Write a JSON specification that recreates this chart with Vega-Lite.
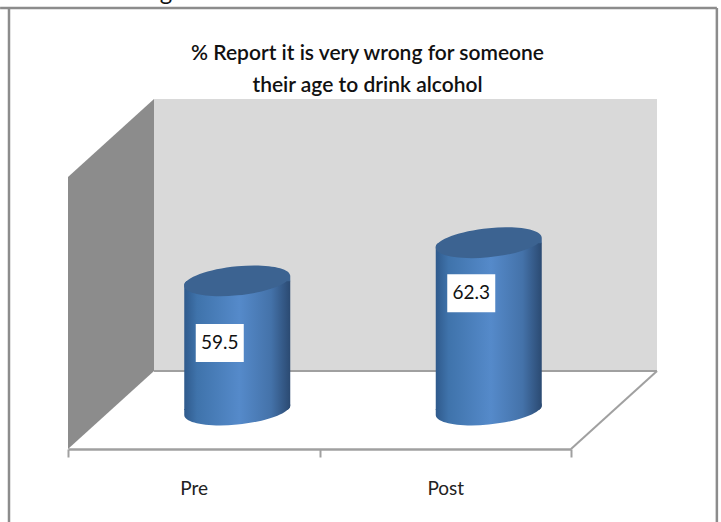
{
  "$schema": "https://vega.github.io/schema/vega-lite/v6.json",
  "width": 503,
  "height": 272,
  "autosize": "none",
  "padding": {"left": 68, "top": 177, "right": 150, "bottom": 73},
  "background": "#ffffff",
  "config": {"view": {"stroke": null}},
  "title": {
    "text": ["% Report it is very wrong for someone", "their age to drink alcohol"],
    "font": "Lato",
    "fontSize": 21,
    "fontWeight": 600,
    "color": "#111111",
    "anchor": "middle",
    "frame": "group",
    "dx": 48,
    "offset": -115,
    "lineHeight": 32
  },
  "datasets": {
    "survey": [
      {"period": "Pre", "percent": 59.5, "labelAt": 57.8},
      {"period": "Post", "percent": 62.3, "labelAt": 61.45}
    ],
    "sideWall": [
      {"x": 0, "low": 50, "high": 70},
      {"x": 0.171, "low": 55.73, "high": 75.73}
    ],
    "backWall": [
      {"x": 0.171, "low": 55.73, "high": 75.73},
      {"x": 1.171, "low": 55.73, "high": 75.73}
    ],
    "floorEdges": [
      {"edge": "back", "seq": 1, "x": 0.171, "y": 55.73},
      {"edge": "back", "seq": 2, "x": 1.171, "y": 55.73},
      {"edge": "right", "seq": 1, "x": 1.171, "y": 55.73},
      {"edge": "right", "seq": 2, "x": 1, "y": 50}
    ],
    "frame": [
      {"edge": "top", "seq": 1, "x": -0.135, "y": 82.43},
      {"edge": "top", "seq": 2, "x": 1.29, "y": 82.43},
      {"edge": "left", "seq": 1, "x": -0.1173, "y": 82.43},
      {"edge": "left", "seq": 2, "x": -0.1173, "y": 44.6},
      {"edge": "right", "seq": 1, "x": 1.29, "y": 82.43},
      {"edge": "right", "seq": 2, "x": 1.29, "y": 44.6}
    ],
    "heading": [
      {"x": 0.195, "y": 83.05, "text": "g"}
    ]
  },
  "layer": [
    {
      "data": {"name": "sideWall"},
      "mark": {"type": "area", "color": "#8c8c8c"},
      "encoding": {
        "x": {"field": "x", "type": "quantitative", "scale": {"domain": [0, 1], "zero": false, "nice": false}, "axis": null},
        "y": {"field": "low", "type": "quantitative", "scale": {"domain": [50, 70], "zero": false, "nice": false}, "axis": null},
        "y2": {"field": "high"}
      }
    },
    {
      "data": {"name": "backWall"},
      "mark": {"type": "area", "color": "#d9d9d9"},
      "encoding": {
        "x": {"field": "x", "type": "quantitative", "scale": {"domain": [0, 1], "zero": false, "nice": false}, "axis": null},
        "y": {"field": "low", "type": "quantitative", "scale": {"domain": [50, 70], "zero": false, "nice": false}, "axis": null},
        "y2": {"field": "high"}
      }
    },
    {
      "data": {"name": "floorEdges"},
      "mark": {"type": "line", "color": "#a0a0a0", "strokeWidth": 2},
      "encoding": {
        "x": {"field": "x", "type": "quantitative", "scale": {"domain": [0, 1], "zero": false, "nice": false}, "axis": null},
        "y": {"field": "y", "type": "quantitative", "scale": {"domain": [50, 70], "zero": false, "nice": false}, "axis": null},
        "detail": {"field": "edge"},
        "order": {"field": "seq"}
      }
    },
    {
      "data": {"name": "frame"},
      "mark": {"type": "line", "color": "#8c8c8c", "strokeWidth": 2.5},
      "encoding": {
        "x": {"field": "x", "type": "quantitative", "scale": {"domain": [0, 1], "zero": false, "nice": false}, "axis": null},
        "y": {"field": "y", "type": "quantitative", "scale": {"domain": [50, 70], "zero": false, "nice": false}, "axis": null},
        "detail": {"field": "edge"},
        "order": {"field": "seq"}
      }
    },
    {
      "data": {"name": "heading"},
      "mark": {"type": "text", "font": "Lato", "fontSize": 24, "color": "#111111", "baseline": "alphabetic"},
      "encoding": {
        "x": {"field": "x", "type": "quantitative", "scale": {"domain": [0, 1], "zero": false, "nice": false}, "axis": null},
        "y": {"field": "y", "type": "quantitative", "scale": {"domain": [50, 70], "zero": false, "nice": false}, "axis": null},
        "text": {"field": "text"}
      }
    },
    {
      "data": {"name": "survey"},
      "mark": {
        "type": "point",
        "filled": true,
        "opacity": 1,
        "shape": "M1 -0.094C1 0.058 0.552 0.223 0 0.275C-0.552 0.327 -1 0.246 -1 0.094C-1 -0.058 -0.552 -0.223 0 -0.275C0.552 -0.327 1 -0.246 1 -0.094ZM-1 -0.02L-0.9 -0.02L-0.9 0.1L-1 0.1Z",
        "size": 11236,
        "xOffset": 43.5,
        "yOffset": -39,
        "fill": {
          "gradient": "linear", "x1": 0, "y1": 0, "x2": 1, "y2": 0,
          "stops": [
            {"offset": 0, "color": "#2f5a8c"},
            {"offset": 0.12, "color": "#3f73ab"},
            {"offset": 0.52, "color": "#558aca"},
            {"offset": 0.82, "color": "#4472a9"},
            {"offset": 1, "color": "#2b4a72"}
          ]
        }
      },
      "encoding": {
        "x": {"field": "period", "type": "nominal", "sort": ["Pre", "Post"], "scale": {"type": "band", "domain": ["Pre", "Post"], "paddingInner": 0, "paddingOuter": 0}, "axis": null},
        "y": {"datum": 50, "type": "quantitative", "scale": {"domain": [50, 70], "zero": false, "nice": false}, "axis": null}
      }
    },
    {
      "data": {"name": "survey"},
      "mark": {
        "type": "bar",
        "width": 106,
        "xOffset": 43.5,
        "yOffset": -39,
        "y2Offset": -39,
        "cornerRadiusTopLeft": 4,
        "cornerRadiusBottomRight": 4,
        "fill": {
          "gradient": "linear", "x1": 0, "y1": 0, "x2": 1, "y2": 0,
          "stops": [
            {"offset": 0, "color": "#2f5a8c"},
            {"offset": 0.12, "color": "#3f73ab"},
            {"offset": 0.52, "color": "#558aca"},
            {"offset": 0.82, "color": "#4472a9"},
            {"offset": 1, "color": "#2b4a72"}
          ]
        }
      },
      "encoding": {
        "x": {
          "field": "period", "type": "nominal", "sort": ["Pre", "Post"], "title": null,
          "scale": {"type": "band", "domain": ["Pre", "Post"], "paddingInner": 0, "paddingOuter": 0},
          "axis": {
            "labelAngle": 0, "labelFont": "Lato", "labelFontSize": 19, "labelColor": "#222222",
            "labelPadding": 22, "tickBand": "extent", "tickSize": 8, "tickWidth": 2, "tickColor": "#a0a0a0",
            "domainColor": "#a0a0a0", "domainWidth": 2.5, "grid": false
          }
        },
        "y": {"field": "percent", "type": "quantitative", "stack": null, "scale": {"domain": [50, 70], "zero": false, "nice": false}, "axis": null},
        "y2": {"datum": 50}
      }
    },
    {
      "data": {"name": "survey"},
      "mark": {
        "type": "point",
        "filled": true,
        "opacity": 1,
        "color": "#3c6391",
        "shape": "M1 -0.094C1 0.058 0.552 0.223 0 0.275C-0.552 0.327 -1 0.246 -1 0.094C-1 -0.058 -0.552 -0.223 0 -0.275C0.552 -0.327 1 -0.246 1 -0.094ZM1 -0.1L1 0.01L0.92 0.01L0.92 -0.1Z",
        "size": 11236,
        "xOffset": 43.5,
        "yOffset": -39
      },
      "encoding": {
        "x": {"field": "period", "type": "nominal", "sort": ["Pre", "Post"], "scale": {"type": "band", "domain": ["Pre", "Post"], "paddingInner": 0, "paddingOuter": 0}, "axis": null},
        "y": {"field": "percent", "type": "quantitative", "scale": {"domain": [50, 70], "zero": false, "nice": false}, "axis": null}
      }
    },
    {
      "data": {"name": "survey"},
      "mark": {
        "type": "point",
        "filled": true,
        "opacity": 1,
        "color": "#ffffff",
        "shape": "M-1 -0.79L1 -0.79L1 0.79L-1 0.79Z",
        "size": 2304,
        "xOffset": 26
      },
      "encoding": {
        "x": {"field": "period", "type": "nominal", "sort": ["Pre", "Post"], "scale": {"type": "band", "domain": ["Pre", "Post"], "paddingInner": 0, "paddingOuter": 0}, "axis": null},
        "y": {"field": "labelAt", "type": "quantitative", "scale": {"domain": [50, 70], "zero": false, "nice": false}, "axis": null}
      }
    },
    {
      "data": {"name": "survey"},
      "mark": {"type": "text", "font": "Lato", "fontSize": 19, "color": "#111111", "xOffset": 26},
      "encoding": {
        "x": {"field": "period", "type": "nominal", "sort": ["Pre", "Post"], "scale": {"type": "band", "domain": ["Pre", "Post"], "paddingInner": 0, "paddingOuter": 0}, "axis": null},
        "y": {"field": "labelAt", "type": "quantitative", "scale": {"domain": [50, 70], "zero": false, "nice": false}, "axis": null},
        "text": {"field": "percent", "type": "quantitative", "format": ".1f"}
      }
    }
  ],
  "resolve": {"scale": {"x": "independent"}}
}
